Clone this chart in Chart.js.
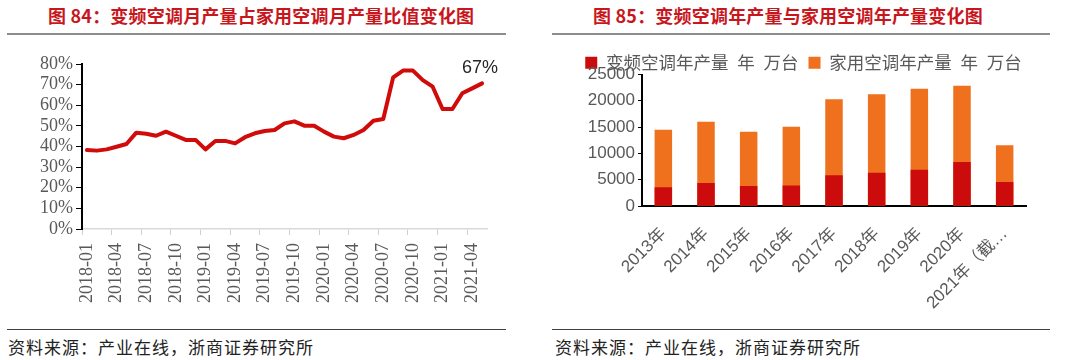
<!DOCTYPE html>
<html>
<head>
<meta charset="utf-8">
<script src="https://cdn.jsdelivr.net/npm/chart.js@4.4.0/dist/chart.umd.min.js"></script>
<style>
  body { margin: 0; width: 1080px; height: 360px; background: #fff; position: relative; overflow: hidden; font-family: "Noto Sans CJK SC", sans-serif; }
  .title { position: absolute; top: 3px; font-size: 18px; font-weight: bold; color: #c8161d; white-space: nowrap; line-height: 24px; letter-spacing: 0.2px; }
  .rule { position: absolute; height: 2px; background: #8c8c8c; }
  .rule2 { position: absolute; height: 1px; background: #404040; }
  .src { position: absolute; top: 335px; font-size: 17px; letter-spacing: 1px; color: #222; white-space: nowrap; line-height: 24px; }
  canvas { position: absolute; }
</style>
</head>
<body>
<div class="title" style="left:48px">图 84：变频空调月产量占家用空调月产量比值变化图</div>
<div class="title" style="left:593px">图 85：变频空调年产量与家用空调年产量变化图</div>
<div class="rule" style="left:7px;top:33px;width:499px"></div>
<div class="rule" style="left:552px;top:33px;width:498px"></div>
<div class="rule2" style="left:7px;top:329px;width:499px"></div>
<div class="rule2" style="left:552px;top:329px;width:498px"></div>
<div class="src" style="left:8px">资料来源：产业在线，浙商证券研究所</div>
<div class="src" style="left:555px">资料来源：产业在线，浙商证券研究所</div>

<canvas id="ratioChart" width="540" height="280" style="left:0;top:44px"></canvas>
<canvas id="outputChart" width="475" height="285" style="left:565px;top:44px"></canvas>

<script>
// left chart: inverter share of monthly household AC output (%)
const months = ['2018-01','2018-02','2018-03','2018-04','2018-05','2018-06','2018-07','2018-08','2018-09','2018-10','2018-11','2018-12',
  '2019-01','2019-02','2019-03','2019-04','2019-05','2019-06','2019-07','2019-08','2019-09','2019-10','2019-11','2019-12',
  '2020-01','2020-02','2020-03','2020-04','2020-05','2020-06','2020-07','2020-08','2020-09','2020-10','2020-11','2020-12',
  '2021-01','2021-02','2021-03','2021-04','2021-05'];
const ratio = [38.3, 38.0, 38.6, 39.9, 41.2, 46.7, 46.2, 45.2, 47.2, 45.2,
  43.2, 43.2, 38.6, 42.7, 42.7, 41.5, 44.5, 46.4, 47.5, 48.0,
  51.2, 52.2, 50.1, 50.1, 47.2, 44.8, 44.0, 45.6, 48.0, 52.5,
  53.3, 73.5, 76.8, 76.8, 72.2, 69.0, 58.2, 58.2, 65.8, 68.2, 70.6];
const lastNote = '67%';

// right chart: yearly output (10k units)
const years = ['2013年','2014年','2015年','2016年','2017年','2018年','2019年','2020年','2021年（截…'];
const inverter = [3550, 4350, 3800, 3900, 5850, 6300, 6900, 8350, 4550];
const household = [14500, 16000, 14100, 15050, 20300, 21250, 22300, 22850, 11550];
const seriesNames = ['变频空调年产量\u2002年\u2002万台', '家用空调年产量\u2002年\u2002万台'];

const gray = '#595959';

const lastLabel = {
  id: 'lastLabel',
  afterDatasetsDraw(chart) {
    const pts = chart.getDatasetMeta(0).data;
    const pt = pts[pts.length - 1];
    const ctx = chart.ctx;
    ctx.save();
    ctx.font = '18px "Liberation Sans"';
    ctx.fillStyle = '#262626';
    ctx.textAlign = 'center';
    ctx.textBaseline = 'bottom';
    ctx.fillText(lastNote, pt.x - 2, pt.y - 6);
    ctx.restore();
  }
};

// legend sits tight on top of the plot in the original, a bit right of centre
const tightLegend = {
  id: 'tightLegend',
  afterInit(chart) {
    const lg = chart.legend;
    const fit = lg.fit;
    lg.fit = function () {
      fit.call(this);
      this.height -= 7;
    };
  },
  afterLayout(chart) {
    chart.legend.left += 8;
    chart.legend.right += 8;
  }
};

new Chart(document.getElementById('ratioChart'), {
  type: 'line',
  data: {
    labels: months,
    datasets: [{
      data: ratio,
      borderColor: '#d10a0a',
      borderWidth: 4,
      pointRadius: 0,
      borderJoinStyle: 'round',
      borderCapStyle: 'round',
      tension: 0
    }]
  },
  options: {
    responsive: false,
    animation: false,
    layout: { padding: { top: 20, right: 53, left: 0, bottom: 0 } },
    plugins: { legend: { display: false }, tooltip: { enabled: false } },
    scales: {
      x: {
        offset: true,
        grid: {
          offset: true,
          drawOnChartArea: false,
          tickLength: 6,
          color: (c) => (c.index % 3 === 0 ? '#d0d0d0' : 'rgba(0,0,0,0)')
        },
        border: { color: '#d9d9d9', width: 1.5 },
        ticks: {
          autoSkip: false,
          minRotation: 90,
          maxRotation: 90,
          padding: 8,
          color: gray,
          font: { family: 'Liberation Serif', size: 18 },
          callback: (v, i) => (i % 3 === 0 ? months[i] : '')
        },
        afterFit: (s) => { s.height = 95; }
      },
      y: {
        min: 0,
        max: 80,
        ticks: {
          autoSkip: false,
          stepSize: 10,
          padding: 3,
          color: gray,
          font: { family: 'Liberation Serif', size: 18 },
          callback: (v) => v + '%'
        },
        grid: { drawOnChartArea: false, tickLength: 6, color: '#000' },
        border: { color: '#000', width: 2 },
        afterFit: (s) => { s.width = 82; }
      }
    }
  },
  plugins: [lastLabel]
});

new Chart(document.getElementById('outputChart'), {
  type: 'bar',
  data: {
    labels: years,
    datasets: [
      { label: seriesNames[0], data: inverter, backgroundColor: '#cc0c0c', barPercentage: 0.41, categoryPercentage: 1 },
      { label: seriesNames[1], data: household, backgroundColor: '#ef711d', barPercentage: 0.41, categoryPercentage: 1 }
    ]
  },
  options: {
    responsive: false,
    animation: false,
    layout: { padding: { top: 0, right: 14, left: 0, bottom: 0 } },
    plugins: {
      tooltip: { enabled: false },
      legend: {
        position: 'top',
        labels: {
          boxWidth: 12,
          boxHeight: 12,
          padding: 10,
          color: gray,
          font: { family: 'Noto Sans CJK SC', size: 17.5 }
        }
      }
    },
    scales: {
      x: {
        stacked: true,
        grid: { display: false, drawTicks: false },
        border: { color: '#000', width: 2 },
        ticks: {
          autoSkip: false,
          minRotation: 45,
          maxRotation: 45,
          padding: 18,
          color: gray,
          font: { family: 'Liberation Sans, Noto Sans CJK SC', size: 17 }
        },
        afterFit: (s) => { s.height = 123; }
      },
      y: {
        stacked: false,
        min: 0,
        max: 25000,
        ticks: {
          autoSkip: false,
          stepSize: 5000,
          padding: 3,
          color: gray,
          font: { family: 'Liberation Sans', size: 17 },
          callback: (v) => String(v)
        },
        grid: { drawOnChartArea: false, tickLength: 4, color: '#000' },
        border: { color: '#000', width: 2 },
        afterFit: (s) => { s.width = 77; }
      }
    }
  },
  plugins: [tightLegend]
});
</script>
</body>
</html>
